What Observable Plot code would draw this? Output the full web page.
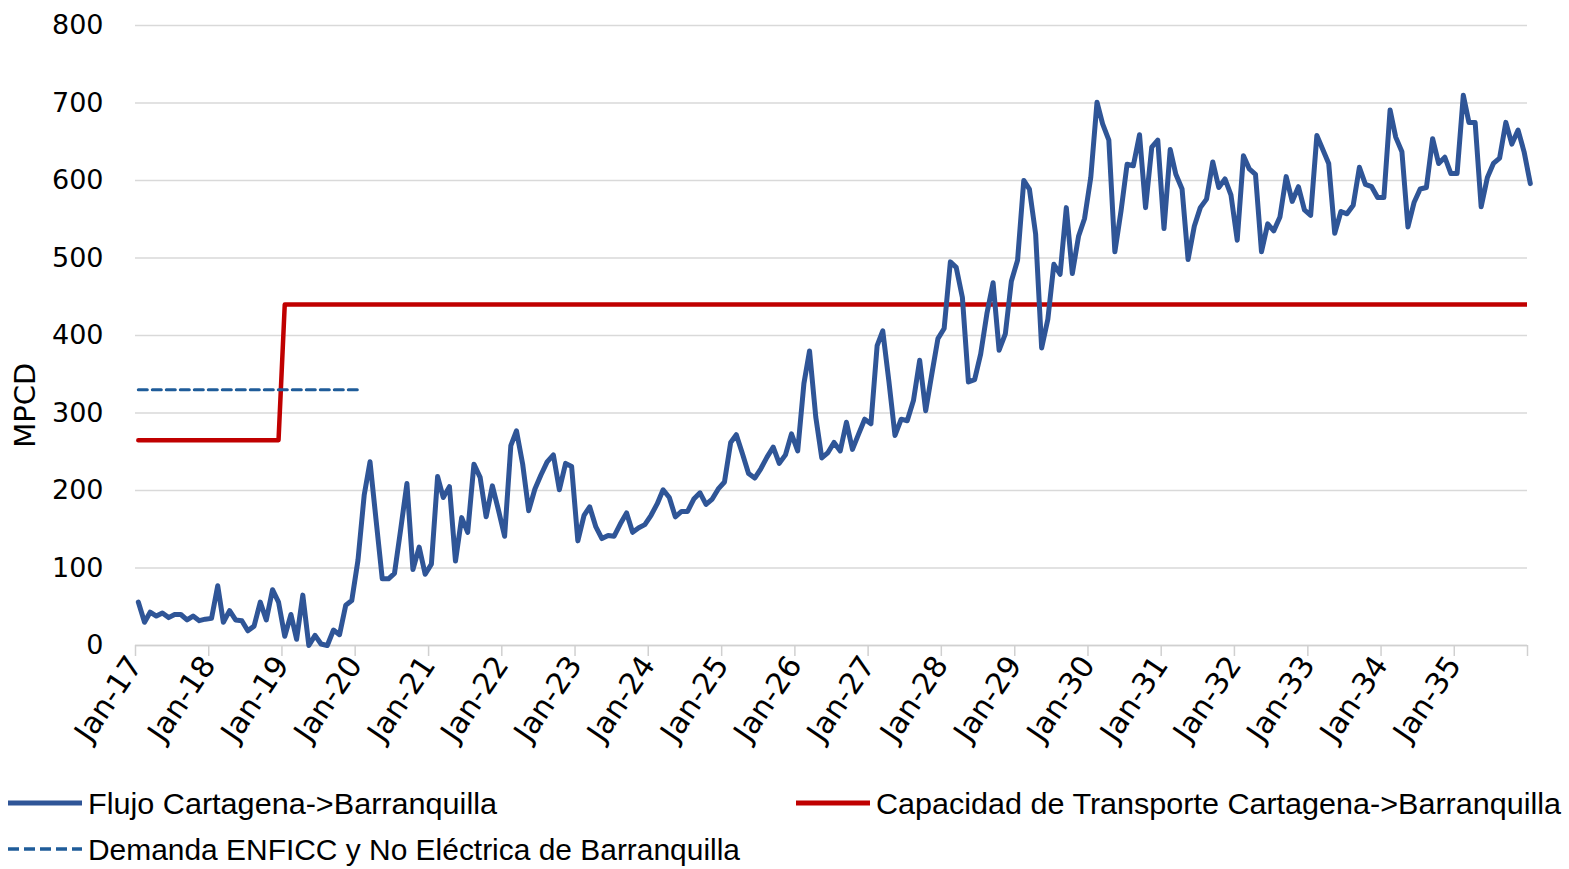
<!DOCTYPE html>
<html><head><meta charset="utf-8">
<script src="https://cdn.jsdelivr.net/npm/d3@7"></script>
<script src="https://cdn.jsdelivr.net/npm/@observablehq/plot@0.6"></script>
<style>
html,body{margin:0;padding:0;background:#fff;overflow:hidden;}
#chart svg,#legend svg{display:block}
</style></head><body><div id="chart"></div><div id="legend"></div>
<script>
// ---- data ----
const startMonth = "2017-01";
const flujo = [
56,30,43,38,42,36,40,40,33,38,32,34,
35,77,30,45,33,32,19,25,56,33,72,56,
12,40,8,65,0,13,2,0,20,14,52,58,
110,194,237,160,86,86,93,150,209,98,127,92,
105,218,191,205,109,165,146,234,217,166,206,175,
141,258,277,234,174,202,220,237,246,201,235,231,
135,168,179,153,138,142,141,157,171,146,152,156,
168,183,201,191,166,173,173,189,197,182,189,202,
211,262,272,247,222,216,228,243,256,235,246,273,
251,338,380,295,242,249,262,251,288,253,273,292,
286,387,406,340,271,292,290,316,368,303,351,396,
409,495,488,449,340,343,376,428,468,381,402,470,
497,600,589,531,384,421,492,479,565,480,528,551,
604,701,673,652,508,561,621,619,659,565,643,652,
538,640,608,589,498,541,565,576,624,591,602,581,
523,632,615,608,508,544,535,553,605,573,592,562,
555,658,641,622,532,560,557,568,617,595,592,578,
578,691,656,637,540,572,589,591,654,622,630,609,
609,710,675,675,566,604,622,629,675,647,665,637,
596
];
const capPeriods = ["2017-01","2018-12","2019-01","2036-01"];
const capValues  = [265,265,440,440];
const demPeriods = ["2017-01","2020-01"];
const demValues  = [330,330];
const yTicks = [0,100,200,300,400,500,600,700,800];
const xTickDates = ["2017-01","2018-01","2019-01","2020-01","2021-01","2022-01","2023-01","2024-01","2025-01","2026-01","2027-01","2028-01","2029-01","2030-01","2031-01","2032-01","2033-01","2034-01","2035-01","2036-01"];
const xTickLabels = ["Jan-17","Jan-18","Jan-19","Jan-20","Jan-21","Jan-22","Jan-23","Jan-24","Jan-25","Jan-26","Jan-27","Jan-28","Jan-29","Jan-30","Jan-31","Jan-32","Jan-33","Jan-34","Jan-35",""];
const seriesNames = ["Flujo Cartagena->Barranquilla","Capacidad de Transporte Cartagena->Barranquilla","Demanda ENFICC y No Eléctrica de Barranquilla"];
const colors = ["#2f5597","#c00000","#1f5c99"];
const yLabel = "MPCD";

// ---- build ----
const parse = d3.utcParse("%Y-%m");
const fmt = d3.utcFormat("%Y-%m");
const t0 = parse(startMonth);
const mid = d => d3.utcDay.offset(d, 14);   // monthly values plotted mid-month
const flujoData = flujo.map((v,i)=>({date:mid(d3.utcMonth.offset(t0,i)), value:v}));
const capData = capPeriods.map((p,i)=>({date:mid(parse(p)), value:capValues[i]}));
const demData = demPeriods.map((p,i)=>({date:mid(parse(p)), value:demValues[i]}));
const labelOf = new Map(xTickDates.map((d,i)=>[d, xTickLabels[i]]));
const tickDates = xTickDates.map(parse);

const plot = Plot.plot({
  width:1569, height:775,
  marginLeft:135, marginRight:42, marginTop:25, marginBottom:130,
  x:{type:"utc", domain:[parse("2017-01"), parse("2036-01")]},
  y:{domain:[0,800]},
  style:{fontFamily:"DejaVu Sans", background:"#fff", color:"#000"},
  marks:[
    Plot.gridY(yTicks,{stroke:"#d9d9d9", strokeOpacity:1, strokeWidth:1.5}),
    Plot.axisY(yTicks,{tickSize:0, tickPadding:32, fontSize:27, label:null, tickFormat:d=>String(d)}),
    Plot.axisX(tickDates,{tickSize:11, stroke:"#d0d0d0", strokeWidth:1.5, strokeOpacity:1, tickRotate:-56, fontSize:30, label:null, tickPadding:3, tickFormat:d=>labelOf.get(fmt(d))}),
    Plot.ruleY([0],{stroke:"#d0d0d0", strokeWidth:1.5}),
    Plot.text([yLabel],{x:()=>t0, y:()=>310, text:d=>d, rotate:-90, dx:-110, fontSize:29, fill:"#000"}),
    Plot.line(capData,{x:"date", y:"value", stroke:colors[1], strokeWidth:4.5, clip:true}),
    Plot.line(demData,{x:"date", y:"value", stroke:colors[2], strokeWidth:3, strokeDasharray:"9,5"}),
    Plot.line(flujoData,{x:"date", y:"value", stroke:colors[0], strokeWidth:5, strokeLinejoin:"round"})
  ]
});
document.getElementById("chart").appendChild(plot);

// ---- legend ----
const lg = d3.select("#legend").append("svg").attr("width",1569).attr("height",94);
const items = [
  {name:seriesNames[0], color:colors[0], x:8, y:28, w:409, dash:null, sw:5},
  {name:seriesNames[1], color:colors[1], x:796, y:28, w:685, dash:null, sw:5},
  {name:seriesNames[2], color:colors[2], x:8, y:74, w:652, dash:"11,5", sw:3.5}
];
items.forEach(it=>{
  lg.append("line").attr("x1",it.x).attr("x2",it.x+74).attr("y1",it.y).attr("y2",it.y)
    .attr("stroke",it.color).attr("stroke-width",it.sw).attr("stroke-dasharray",it.dash);
  lg.append("text").attr("x",it.x+80).attr("y",it.y+11)
    .attr("font-family","'Liberation Sans Narrow','Liberation Sans',sans-serif")
    .attr("font-size",30).attr("fill","#000")
    .attr("textLength",it.w).attr("lengthAdjust","spacingAndGlyphs")
    .text(it.name);
});
</script></body></html>
